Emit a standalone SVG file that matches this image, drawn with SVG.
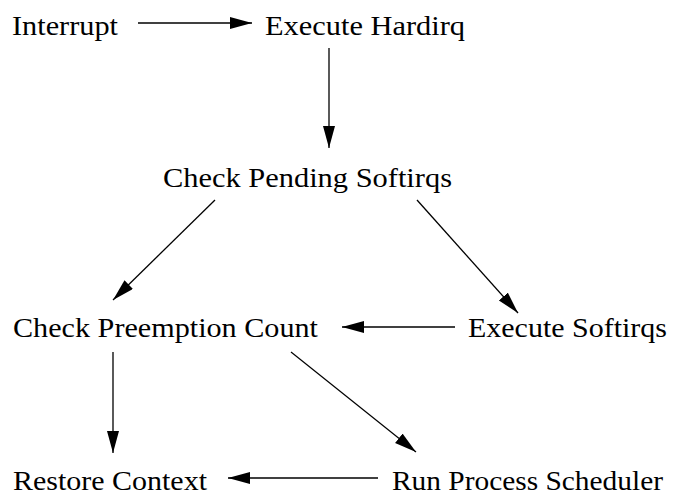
<svg xmlns="http://www.w3.org/2000/svg" width="677" height="496" viewBox="0 0 677 496">
<style>
.t{font-family:'Liberation Serif','Times New Roman',Times,serif;font-size:28px;fill:#000}
.c line{stroke:#000;stroke-width:1.3;fill:none}
</style>
<defs>
<marker id="ah" markerUnits="userSpaceOnUse" markerWidth="24" markerHeight="14" refX="22" refY="6" orient="auto">
<path d="M0,0 L22,6 L0,12 z" fill="#000"/>
</marker>
</defs>
<rect width="677" height="496" fill="#fff"/>
<g id="n-interrupt"><text class="t" x="12" y="35" textLength="106" lengthAdjust="spacingAndGlyphs">Interrupt</text></g>
<g id="n-hardirq"><text class="t" x="265" y="35" textLength="200" lengthAdjust="spacingAndGlyphs">Execute Hardirq</text></g>
<g id="n-pending"><text class="t" x="163" y="187" textLength="289" lengthAdjust="spacingAndGlyphs">Check Pending Softirqs</text></g>
<g id="n-preempt"><text class="t" x="13" y="337" textLength="305" lengthAdjust="spacingAndGlyphs">Check Preemption Count</text></g>
<g id="n-softirqs"><text class="t" x="468" y="337" textLength="199" lengthAdjust="spacingAndGlyphs">Execute Softirqs</text></g>
<g id="n-restore"><text class="t" x="13" y="490" textLength="194" lengthAdjust="spacingAndGlyphs">Restore Context</text></g>
<g id="n-sched"><text class="t" x="392" y="490" textLength="271" lengthAdjust="spacingAndGlyphs">Run Process Scheduler</text></g>
<g id="connectors" class="c">
<line x1="138" y1="23" x2="252" y2="23" marker-end="url(#ah)"/>
<line x1="329" y1="48" x2="329" y2="148" marker-end="url(#ah)"/>
<line x1="215" y1="200" x2="113" y2="300" marker-end="url(#ah)"/>
<line x1="417" y1="200" x2="518" y2="313" marker-end="url(#ah)"/>
<line x1="455" y1="327" x2="342" y2="327" marker-end="url(#ah)"/>
<line x1="113" y1="352" x2="113" y2="453" marker-end="url(#ah)"/>
<line x1="291" y1="352" x2="416" y2="452" marker-end="url(#ah)"/>
<line x1="378" y1="478" x2="228" y2="478" marker-end="url(#ah)"/>
</g>
</svg>
